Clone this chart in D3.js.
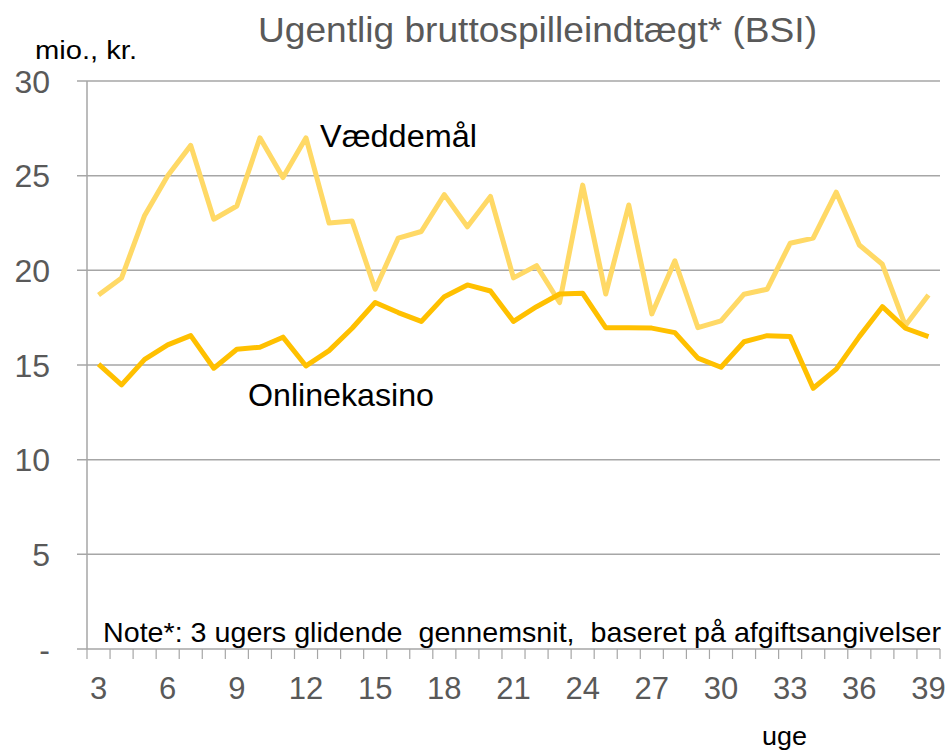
<!DOCTYPE html>
<html lang="da">
<head>
<meta charset="utf-8">
<title>Ugentlig bruttospilleindtægt</title>
<script src="https://d3js.org/d3.v7.min.js"></script>
<style>
  body { margin: 0; background: #fff; }
  svg { font-family: "Liberation Sans", Arial, sans-serif; }
</style>
</head>
<body>
<div id="chart"></div>
<script>
// Data
const weeks = d3.range(3, 40);
const vaeddemaal = [18.7, 19.6, 22.9, 25.0, 26.6, 22.7, 23.4, 27.0, 24.9, 27.0, 22.5, 22.6, 19.0,
  21.7, 22.05, 24.0, 22.3, 23.9, 19.6, 20.25, 18.3, 24.5, 18.75, 23.45, 17.7,
  20.5, 16.97, 17.33, 18.74, 19.0, 21.43, 21.7, 24.13, 21.34, 20.32, 17.08, 18.7];
const onlinekasino = [15.05, 13.95, 15.3, 16.06, 16.55, 14.83, 15.83, 15.94, 16.47, 14.95, 15.76, 16.94, 18.3,
  17.77, 17.3, 18.61, 19.23, 18.91, 17.3, 18.08, 18.75, 18.79, 16.97, 16.97, 16.95,
  16.71, 15.36, 14.88, 16.23, 16.55, 16.5, 13.77, 14.78, 16.5, 18.08, 16.94, 16.5];
const yTicks = [0, 5, 10, 15, 20, 25, 30];
const xTickLabels = [3, 6, 9, 12, 15, 18, 21, 24, 27, 30, 33, 36, 39];

const width = 950, height = 753;
const plot = { left: 87, right: 940, top: 81, bottom: 649 };
const gridColor = "#a6a6a6";

const svg = d3.select("#chart").append("svg")
  .attr("width", width)
  .attr("height", height);

const x = d3.scaleBand()
  .domain(weeks)
  .range([plot.left, plot.right])
  .paddingInner(0);

const y = d3.scaleLinear()
  .domain([0, 30])
  .range([plot.bottom, plot.top]);

// Gridlines (incl. the x axis line at 0)
svg.append("g")
  .selectAll("line")
  .data(yTicks)
  .enter()
  .append("line")
  .attr("x1", plot.left - 10)
  .attr("x2", plot.right)
  .attr("y1", d => y(d))
  .attr("y2", d => y(d))
  .attr("stroke", gridColor)
  .attr("stroke-width", 1.5);

// Y axis line
svg.append("line")
  .attr("x1", plot.left)
  .attr("x2", plot.left)
  .attr("y1", plot.top)
  .attr("y2", plot.bottom)
  .attr("stroke", gridColor)
  .attr("stroke-width", 1.5);

// tick marks at week boundaries
svg.append("g")
  .selectAll("line")
  .data(weeks.concat([40]))
  .enter()
  .append("line")
  .attr("x1", d => d === 40 ? plot.right : x(d))
  .attr("x2", d => d === 40 ? plot.right : x(d))
  .attr("y1", plot.bottom)
  .attr("y2", plot.bottom + 10)
  .attr("stroke", gridColor)
  .attr("stroke-width", 1.2);

// X tick labels
svg.append("g")
  .selectAll("text")
  .data(xTickLabels)
  .enter()
  .append("text")
  .attr("x", d => x(d) + x.bandwidth() / 2)
  .attr("y", 699)
  .attr("text-anchor", "middle")
  .attr("fill", "#595959")
  .style("font-size", "31px")
  .text(d => d);

// Y tick labels
svg.append("g")
  .selectAll("text")
  .data(yTicks)
  .enter()
  .append("text")
  .attr("x", 50)
  .attr("y", d => y(d))
  .attr("dy", "0.36em")
  .attr("text-anchor", "end")
  .attr("fill", "#595959")
  .style("font-size", "32px")
  .text(d => d === 0 ? "-" : d);

// Lines
const line = d3.line()
  .x((d, i) => x(weeks[i]) + x.bandwidth() / 2)
  .y(d => y(d));

svg.append("path")
  .datum(vaeddemaal)
  .attr("fill", "none")
  .attr("stroke", "#ffd966")
  .attr("stroke-width", 5)
  .attr("stroke-linejoin", "round")
  .attr("d", line);

svg.append("path")
  .datum(onlinekasino)
  .attr("fill", "none")
  .attr("stroke", "#ffc000")
  .attr("stroke-width", 5)
  .attr("stroke-linejoin", "round")
  .attr("d", line);

// Series labels
svg.append("text")
  .attr("x", 320)
  .attr("y", 147)
  .style("font-size", "31px")
  .attr("fill", "#000")
  .attr("textLength", 157)
  .attr("lengthAdjust", "spacingAndGlyphs")
  .text("Væddemål");

svg.append("text")
  .attr("x", 248)
  .attr("y", 406)
  .style("font-size", "32px")
  .attr("fill", "#000")
  .attr("textLength", 186)
  .attr("lengthAdjust", "spacingAndGlyphs")
  .text("Onlinekasino");

// Title and units
svg.append("text")
  .attr("x", 258)
  .attr("y", 42)
  .attr("fill", "#595959")
  .style("font-size", "35px")
  .attr("textLength", 559)
  .attr("lengthAdjust", "spacingAndGlyphs")
  .text("Ugentlig bruttospilleindtægt* (BSI)");

svg.append("text")
  .attr("x", 35)
  .attr("y", 59)
  .attr("fill", "#000")
  .style("font-size", "26px")
  .attr("textLength", 102)
  .attr("lengthAdjust", "spacingAndGlyphs")
  .text("mio., kr.");

// Note
svg.append("text")
  .attr("x", 103)
  .attr("y", 642)
  .attr("fill", "#000")
  .style("font-size", "28px")
  .style("white-space", "pre")
  .attr("textLength", 838)
  .attr("lengthAdjust", "spacingAndGlyphs")
  .text("Note*: 3 ugers glidende  gennemsnit,  baseret på afgiftsangivelser");

svg.append("text")
  .attr("x", 762)
  .attr("y", 745)
  .attr("fill", "#000")
  .style("font-size", "26px")
  .attr("textLength", 45)
  .attr("lengthAdjust", "spacingAndGlyphs")
  .text("uge");
</script>
</body>
</html>
